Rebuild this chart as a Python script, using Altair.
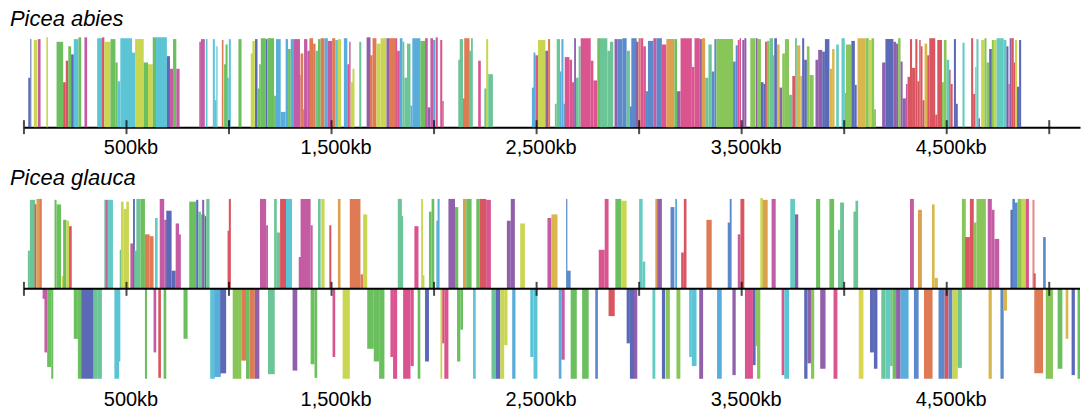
import altair as alt
import pandas as pd

# ---------------- data (kb start, kb end, height %, colour) ----------------
palette_names = ["indigo", "purple", "magenta", "pink", "red", "salmon", "orange", "amber",
                 "gold", "yellow", "yg", "lgreen", "green", "mint", "teal", "cyan", "sky", "corn"]
palette_hex = ["#5b69b6", "#9160ab", "#c45ca4", "#da5590", "#d9555f", "#e68a86", "#de7b55", "#dda052",
               "#d8b84e", "#d9d64f", "#c8d652", "#88c65a", "#6cbf5e", "#6cc597", "#63cbc1", "#5bc5d6", "#58addb", "#5b89c9"]

tick_kb = [0, 500, 1000, 1500, 2000, 2500, 3000, 3500, 4000, 4500, 5000]
label_kb = [500, 1500, 2500, 3500, 4500]

abies = [
    (21, 31, 55, "indigo"), (31, 36, 98, "indigo"), (48, 65, 97, "yg"), (68, 81, 98, "magenta"),
    (109, 117, 100, "yg"), (159, 191, 95, "green"), (191, 204, 50, "red"), (204, 216, 74, "red"),
    (216, 230, 90, "green"), (230, 243, 81, "indigo"), (243, 266, 98, "cyan"), (266, 279, 100, "green"),
    (295, 308, 100, "magenta"), (357, 383, 99, "cyan"), (381, 392, 100, "red"), (392, 422, 95, "yg"),
    (422, 446, 98, "green"), (446, 457, 72, "green"), (457, 470, 51, "cyan"), (470, 527, 99, "cyan"),
    (527, 542, 83, "cyan"), (542, 584, 98, "yg"), (584, 605, 72, "green"), (605, 628, 70, "yg"),
    (628, 644, 100, "green"), (644, 697, 100, "cyan"), (697, 712, 79, "indigo"), (712, 727, 65, "magenta"),
    (727, 743, 98, "green"), (743, 759, 65, "magenta"), (855, 863, 95, "magenta"),
    (863, 882, 98, "magenta"), (887, 895, 98, "cyan"), (921, 931, 98, "cyan"), (931, 938, 30, "cyan"),
    (938, 944, 90, "cyan"), (965, 973, 97, "orange"), (976, 986, 70, "green"), (983, 993, 92, "green"),
    (989, 999, 55, "cyan"), (999, 1009, 98, "cyan"), (1046, 1061, 98, "green"), (1106, 1117, 82, "yg"),
    (1114, 1126, 96, "yg"), (1127, 1139, 98, "indigo"), (1139, 1152, 43, "green"), (1147, 1155, 70, "green"),
    (1155, 1179, 99, "green"), (1179, 1187, 98, "indigo"), (1187, 1220, 99, "green"), (1220, 1229, 35, "green"),
    (1229, 1252, 98, "sky"), (1252, 1276, 17, "sky"), (1276, 1288, 98, "sky"), (1288, 1301, 87, "green"),
    (1301, 1317, 98, "sky"), (1317, 1346, 98, "magenta"), (1343, 1349, 58, "magenta"), (1349, 1362, 82, "orange"),
    (1362, 1369, 20, "pink"), (1366, 1382, 98, "magenta"), (1382, 1395, 85, "magenta"), (1392, 1410, 99, "orange"),
    (1410, 1422, 93, "orange"), (1422, 1434, 85, "mint"), (1434, 1447, 98, "green"), (1447, 1466, 99, "orange"),
    (1466, 1482, 99, "sky"), (1482, 1503, 96, "magenta"), (1503, 1518, 99, "orange"), (1518, 1531, 97, "cyan"),
    (1531, 1547, 98, "yg"), (1560, 1577, 99, "sky"), (1577, 1586, 70, "pink"), (1586, 1593, 95, "magenta"),
    (1593, 1606, 50, "yg"), (1602, 1612, 65, "yg"), (1635, 1645, 95, "mint"), (1671, 1690, 100, "purple"),
    (1687, 1700, 80, "orange"), (1700, 1719, 99, "orange"), (1719, 1739, 93, "yg"),
    (1739, 1768, 99, "yg"), (1768, 1784, 99, "purple"), (1784, 1810, 99, "orange"), (1810, 1820, 99, "pink"),
    (1820, 1833, 85, "pink"), (1833, 1846, 99, "sky"), (1846, 1855, 95, "mint"), (1855, 1868, 55, "mint"),
    (1868, 1885, 93, "mint"), (1885, 1894, 24, "sky"), (1894, 1933, 99, "sky"), (1933, 1956, 96, "green"),
    (1956, 1969, 99, "magenta"), (1969, 1982, 22, "purple"), (1982, 1995, 99, "magenta"), (1995, 2006, 97, "sky"),
    (2008, 2018, 100, "pink"), (2030, 2040, 97, "pink"), (2040, 2047, 29, "pink"), (2118, 2128, 75, "mint"),
    (2125, 2141, 98, "mint"), (2147, 2173, 99, "orange"), (2141, 2154, 32, "orange"), (2170, 2180, 85, "mint"),
    (2180, 2189, 99, "mint"), (2215, 2228, 74, "pink"), (2245, 2258, 43, "mint"), (2254, 2264, 98, "yg"),
    (2264, 2287, 59, "mint"), (2477, 2488, 44, "sky"), (2485, 2494, 83, "sky"), (2494, 2507, 80, "pink"),
    (2507, 2543, 97, "yg"), (2543, 2556, 85, "purple"), (2556, 2566, 98, "orange"), (2589, 2598, 26, "mint"),
    (2598, 2614, 98, "mint"),
    (2614, 2621, 62, "sky"), (2621, 2631, 98, "sky"), (2631, 2640, 26, "sky"), (2637, 2660, 78, "pink"),
    (2660, 2673, 75, "pink"), (2673, 2683, 50, "pink"), (2683, 2692, 99, "purple"), (2692, 2705, 55, "mint"),
    (2705, 2715, 90, "mint"), (2715, 2764, 99, "pink"), (2764, 2777, 74, "pink"), (2777, 2796, 52, "pink"),
    (2796, 2809, 99, "green"), (2809, 2845, 99, "mint"), (2845, 2858, 85, "mint"), (2858, 2874, 95, "mint"),
    (2880, 2893, 98, "purple"), (2893, 2919, 98, "corn"), (2919, 2939, 99, "corn"), (2939, 2955, 85, "mint"),
    (2955, 2968, 23, "corn"), (2962, 2988, 99, "corn"), (2984, 2997, 95, "purple"), (2997, 3007, 99, "orange"),
    (3007, 3020, 99, "pink"), (3020, 3033, 90, "pink"), (3033, 3043, 40, "corn"), (3043, 3069, 96, "corn"),
    (3069, 3085, 99, "magenta"), (3085, 3111, 99, "corn"), (3111, 3133, 92, "pink"), (3133, 3172, 98, "amber"),
    (3172, 3185, 98, "green"), (3185, 3202, 40, "purple"), (3202, 3257, 99, "pink"), (3257, 3270, 67, "pink"),
    (3270, 3296, 99, "pink"), (3296, 3306, 98, "purple"), (3306, 3322, 99, "amber"), (3322, 3338, 55, "mint"),
    (3338, 3354, 92, "mint"), (3354, 3367, 62, "corn"), (3367, 3377, 98, "corn"), (3377, 3458, 98, "lgreen"),
    (3458, 3471, 73, "corn"), (3471, 3481, 91, "corn"), (3481, 3490, 97, "pink"),
    (3490, 3497, 99, "pink"), (3503, 3513, 97, "purple"), (3513, 3523, 99, "purple"), (3542, 3565, 99, "lgreen"),
    (3568, 3578, 99, "purple"), (3578, 3594, 98, "lgreen"), (3594, 3607, 50, "indigo"), (3607, 3617, 48, "indigo"),
    (3614, 3623, 95, "red"), (3623, 3636, 96, "lgreen"), (3636, 3653, 99, "mint"), (3649, 3659, 80, "mint"),
    (3659, 3672, 99, "indigo"), (3672, 3685, 92, "gold"), (3685, 3698, 44, "purple"), (3698, 3711, 82, "lgreen"),
    (3711, 3731, 98, "lgreen"), (3731, 3747, 36, "mint"), (3747, 3760, 57, "red"), (3760, 3769, 99, "mint"),
    (3769, 3786, 91, "gold"), (3786, 3795, 57, "gold"), (3795, 3805, 99, "indigo"), (3805, 3818, 75, "indigo"),
    (3818, 3831, 90, "lgreen"), (3831, 3851, 58, "lgreen"), (3860, 3873, 75, "purple"), (3873, 3893, 86, "purple"),
    (3893, 3906, 84, "indigo"), (3906, 3928, 98, "indigo"), (3928, 3941, 65, "gold"), (3941, 3953, 87, "gold"),
    (3961, 3974, 92, "teal"), (3987, 4003, 99, "teal"), (4003, 4013, 38, "mint"), (4009, 4035, 92, "lgreen"),
    (4035, 4052, 96, "indigo"), (4052, 4061, 47, "indigo"), (4065, 4104, 99, "gold"), (4104, 4120, 99, "lgreen"),
    (4120, 4133, 97, "yg"), (4133, 4146, 99, "lgreen"), (4146, 4155, 20, "lgreen"), (4185, 4201, 72, "purple"),
    (4201, 4240, 98, "indigo"), (4240, 4253, 95, "purple"), (4253, 4263, 93, "purple"), (4263, 4275, 99, "lgreen"),
    (4275, 4285, 73, "purple"), (4285, 4301, 32, "purple"), (4301, 4309, 48, "magenta"), (4309, 4321, 56, "red"),
    (4321, 4331, 98, "red"), (4331, 4347, 66, "red"), (4347, 4357, 98, "red"), (4357, 4366, 51, "red"),
    (4366, 4373, 97, "red"), (4373, 4382, 90, "red"), (4382, 4392, 30, "red"), (4392, 4405, 93, "gold"),
    (4405, 4415, 80, "red"), (4415, 4444, 99, "red"), (4444, 4454, 14, "red"), (4454, 4477, 97, "red"),
    (4477, 4486, 50, "lgreen"), (4486, 4499, 97, "lgreen"), (4499, 4512, 75, "teal"), (4512, 4519, 64, "red"),
    (4519, 4529, 48, "red"), (4535, 4545, 98, "indigo"), (4545, 4554, 26, "indigo"), (4577, 4587, 94, "teal"),
    (4619, 4629, 99, "red"), (4629, 4639, 37, "red"), (4639, 4645, 67, "teal"), (4645, 4655, 98, "teal"),
    (4655, 4662, 10, "purple"), (4668, 4684, 97, "yg"), (4684, 4694, 99, "lgreen"), (4694, 4707, 72, "lgreen"),
    (4707, 4720, 87, "indigo"), (4720, 4730, 97, "lgreen"), (4730, 4743, 97, "yg"), (4743, 4778, 99, "teal"),
    (4778, 4791, 97, "teal"), (4791, 4801, 90, "indigo"), (4801, 4807, 48, "magenta"), (4807, 4817, 99, "purple"),
    (4817, 4827, 99, "red"), (4827, 4833, 72, "red"), (4833, 4843, 97, "yg"), (4843, 4853, 45, "indigo"),
    (4853, 4863, 97, "indigo"),
]

glauca_plus = [
    (19, 29, 42, "mint"), (29, 55, 98, "mint"), (52, 61, 93, "red"), (61, 74, 99, "amber"),
    (74, 87, 99, "orange"), (149, 159, 98, "green"), (159, 181, 93, "green"), (185, 198, 14, "yg"),
    (191, 207, 76, "green"), (207, 220, 75, "yg"), (220, 233, 69, "red"), (392, 402, 98, "mint"),
    (399, 409, 98, "magenta"), (409, 434, 98, "teal"), (467, 480, 43, "mint"), (473, 486, 96, "yg"),
    (486, 503, 88, "yg"), (499, 512, 96, "yg"), (519, 532, 50, "magenta"), (532, 541, 99, "indigo"),
    (538, 555, 42, "mint"), (548, 568, 99, "mint"), (568, 590, 99, "green"), (590, 613, 60, "orange"),
    (613, 632, 58, "orange"), (639, 652, 78, "teal"), (662, 684, 99, "magenta"), (684, 697, 76, "magenta"),
    (694, 720, 86, "indigo"), (720, 740, 20, "indigo"), (740, 756, 72, "magenta"), (749, 765, 60, "magenta"),
    (806, 840, 96, "green"), (840, 850, 98, "indigo"), (850, 863, 85, "mint"), (863, 882, 82, "mint"),
    (869, 879, 98, "purple"), (882, 889, 80, "indigo"), (889, 905, 99, "mint"), (993, 1002, 64, "red"),
    (999, 1009, 99, "red"), (1151, 1181, 99, "magenta"), (1181, 1190, 70, "magenta"), (1220, 1233, 99, "mint"),
    (1233, 1249, 62, "mint"), (1249, 1278, 99, "red"), (1278, 1307, 99, "cyan"), (1340, 1353, 35, "magenta"),
    (1349, 1398, 99, "magenta"), (1398, 1408, 70, "magenta"), (1434, 1447, 99, "mint"), (1450, 1466, 99, "yg"),
    (1489, 1499, 70, "red"), (1531, 1544, 99, "amber"), (1589, 1641, 99, "orange"),
    (1641, 1654, 16, "orange"), (1654, 1674, 82, "yg"), (1823, 1843, 99, "mint"), (1836, 1849, 80, "mint"),
    (1904, 1924, 69, "pink"), (1937, 1946, 99, "yg"), (1946, 1953, 15, "yg"), (1975, 1988, 85, "green"),
    (1988, 2001, 99, "green"), (2011, 2024, 75, "sky"), (2017, 2027, 99, "sky"), (2070, 2102, 99, "purple"),
    (2102, 2118, 90, "green"), (2141, 2157, 99, "amber"), (2157, 2183, 99, "green"), (2206, 2222, 99, "green"),
    (2222, 2254, 99, "red"), (2254, 2277, 98, "pink"), (2355, 2374, 75, "purple"), (2374, 2394, 99, "purple"),
    (2420, 2443, 72, "yg"), (2553, 2572, 78, "magenta"), (2572, 2602, 82, "gold"), (2644, 2650, 99, "corn"),
    (2647, 2666, 20, "corn"), (2803, 2832, 43, "pink"), (2832, 2851, 99, "pink"), (2884, 2913, 99, "green"),
    (2913, 2939, 97, "yg"), (3000, 3017, 99, "teal"), (3017, 3030, 30, "teal"), (3079, 3088, 99, "amber"),
    (3088, 3111, 99, "purple"), (3153, 3172, 90, "corn"), (3176, 3185, 99, "sky"), (3205, 3218, 40, "red"),
    (3218, 3231, 99, "red"), (3328, 3354, 76, "orange"),
    (3432, 3445, 73, "corn"), (3442, 3451, 99, "corn"), (3481, 3494, 60, "magenta"), (3494, 3513, 99, "red"),
    (3591, 3604, 100, "yg"), (3604, 3627, 98, "amber"), (3646, 3666, 99, "magenta"), (3737, 3760, 99, "teal"),
    (3760, 3776, 82, "purple"), (3863, 3883, 99, "green"), (3928, 3951, 99, "green"), (3970, 3980, 65, "mint"),
    (3980, 3999, 95, "mint"), (4045, 4061, 85, "mint"), (4055, 4068, 97, "mint"), (4321, 4340, 99, "magenta"),
    (4360, 4379, 87, "amber"), (4428, 4441, 93, "gold"), (4441, 4457, 12, "gold"), (4574, 4593, 99, "lgreen"),
    (4590, 4613, 57, "red"), (4613, 4632, 99, "red"), (4632, 4645, 73, "lgreen"), (4645, 4691, 99, "lgreen"),
    (4700, 4720, 99, "magenta"), (4720, 4733, 87, "magenta"), (4733, 4756, 55, "magenta"), (4811, 4827, 87, "indigo"),
    (4820, 4833, 99, "corn"), (4833, 4846, 95, "corn"), (4846, 4866, 99, "lgreen"), (4866, 4885, 99, "yg"),
    (4885, 4901, 99, "pink"), (4918, 4928, 98, "salmon"), (4924, 4934, 17, "red"), (4970, 4983, 57, "corn"),
]

glauca_minus = [
    (91, 110, 11, "magenta"), (100, 113, 70, "magenta"), (113, 133, 86, "green"), (133, 143, 99, "green"),
    (243, 263, 55, "green"), (263, 279, 99, "green"), (279, 340, 99, "indigo"), (340, 357, 99, "mint"),
    (357, 380, 99, "mint"), (441, 464, 99, "cyan"), (460, 470, 80, "cyan"), (590, 600, 99, "green"),
    (632, 645, 70, "magenta"), (655, 668, 98, "red"), (681, 694, 99, "green"), (778, 798, 55, "green"),
    (908, 931, 99, "cyan"), (928, 960, 97, "sky"), (957, 986, 93, "indigo"), (1018, 1044, 99, "lgreen"),
    (1044, 1060, 99, "lgreen"), (1060, 1083, 79, "orange"), (1083, 1100, 99, "green"), (1100, 1126, 99, "orange"),
    (1126, 1148, 99, "purple"), (1190, 1223, 94, "mint"), (1310, 1333, 90, "purple"), (1398, 1417, 83, "green"),
    (1417, 1430, 98, "green"), (1505, 1518, 75, "pink"), (1554, 1589, 99, "yg"),
    (1674, 1706, 66, "green"), (1706, 1732, 80, "green"), (1732, 1758, 99, "green"), (1787, 1800, 75, "pink"),
    (1800, 1820, 99, "pink"), (1849, 1885, 99, "pink"), (1885, 1901, 85, "pink"), (1920, 1933, 99, "green"),
    (1956, 1975, 80, "indigo"), (2031, 2040, 99, "yg"), (2040, 2050, 60, "red"), (2050, 2070, 99, "pink"),
    (2112, 2128, 80, "green"), (2128, 2141, 45, "green"), (2190, 2203, 99, "cyan"), (2280, 2300, 99, "mint"),
    (2300, 2323, 99, "indigo"), (2323, 2342, 99, "yg"), (2342, 2358, 62, "yg"), (2381, 2397, 99, "sky"),
    (2469, 2485, 75, "cyan"), (2485, 2504, 99, "cyan"), (2608, 2621, 99, "sky"), (2621, 2637, 78, "magenta"),
    (2666, 2696, 99, "green"), (2722, 2754, 99, "green"), (2786, 2799, 99, "corn"), (2851, 2881, 30, "red"),
    (2939, 2955, 60, "indigo"), (2955, 2975, 99, "indigo"), (2975, 2991, 99, "purple"), (3065, 3079, 99, "teal"),
    (3111, 3127, 99, "indigo"), (3130, 3150, 99, "lgreen"), (3182, 3201, 99, "lgreen"), (3244, 3257, 75, "cyan"),
    (3257, 3280, 85, "cyan"), (3293, 3312, 99, "purple"), (3380, 3403, 99, "sky"),
    (3455, 3471, 95, "purple"), (3516, 3555, 99, "pink"), (3555, 3568, 84, "indigo"), (3568, 3575, 63, "lgreen"),
    (3575, 3591, 99, "lgreen"), (3695, 3708, 95, "pink"), (3708, 3731, 99, "cyan"), (3805, 3821, 99, "indigo"),
    (3821, 3841, 82, "purple"), (3838, 3854, 99, "lgreen"), (3883, 3909, 88, "purple"), (3948, 3967, 99, "pink"),
    (4071, 4094, 99, "yellow"), (4126, 4145, 70, "indigo"), (4145, 4162, 88, "indigo"), (4181, 4201, 99, "mint"),
    (4201, 4224, 99, "teal"), (4224, 4236, 85, "mint"), (4236, 4253, 99, "green"), (4253, 4275, 99, "purple"),
    (4275, 4314, 99, "sky"), (4340, 4363, 99, "corn"), (4389, 4431, 99, "orange"), (4460, 4490, 99, "corn"),
    (4490, 4509, 99, "red"), (4509, 4528, 99, "corn"), (4528, 4554, 99, "yg"), (4554, 4574, 87, "mint"),
    (4704, 4720, 99, "gold"), (4762, 4778, 99, "corn"), (4775, 4794, 24, "gold"), (4927, 4970, 93, "orange"),
    (4983, 5018, 99, "lgreen"), (5041, 5064, 88, "green"), (5080, 5093, 55, "gold"), (5109, 5125, 95, "indigo"),
    (5138, 5150, 99, "green"),
]


def frame(rows, sign=1):
    return pd.DataFrame({
        "start": [r[0] for r in rows],
        "end": [r[1] for r in rows],
        "h": [sign * r[2] for r in rows],
        "col": [r[3] for r in rows],
    })


df_abies = frame(abies)
df_glauca = pd.concat([frame(glauca_plus, 1), frame(glauca_minus, -1)], ignore_index=True)
df_ticks = pd.DataFrame({"kb": tick_kb})
df_zero = pd.DataFrame({"v": [0]})

W = 1058
FONT = "Liberation Sans"
xs = alt.Scale(domain=[0, 5150], nice=False, zero=False)
color = alt.Color("col:N", scale=alt.Scale(domain=palette_names, range=palette_hex), legend=None)


def xaxis(domain):
    return alt.Axis(values=label_kb, labelExpr="format(datum.value, ',') + 'kb'", ticks=False,
                    grid=False, title=None, labelFontSize=20, labelFont=FONT, labelColor="black",
                    labelPadding=10, labelOffset=4, domain=domain, domainColor="black", domainWidth=2)


def title(txt, off):
    return alt.TitleParams(txt, anchor="start", fontStyle="italic", fontWeight="normal", fontSize=22,
                           font=FONT, color="black", dx=-13, offset=off)


top_bars = alt.Chart(df_abies).mark_rect(strokeWidth=0).encode(
    x=alt.X("start:Q", scale=xs, axis=xaxis(True)),
    x2="end:Q",
    y=alt.Y("h:Q", scale=alt.Scale(domain=[0, 100], nice=False), axis=None),
    y2=alt.datum(0),
    color=color,
)
top_ticks = alt.Chart(df_ticks).mark_tick(color="black", thickness=2, size=14, orient="vertical").encode(
    x=alt.X("kb:Q", scale=xs), y=alt.value(90)
)
top = alt.layer(top_bars, top_ticks).properties(width=W, height=90, title=title("Picea abies", 6))

bot_bars = alt.Chart(df_glauca).mark_rect(strokeWidth=0).encode(
    x=alt.X("start:Q", scale=xs, axis=xaxis(False)),
    x2="end:Q",
    y=alt.Y("h:Q", scale=alt.Scale(domain=[-100, 100], nice=False), axis=None),
    y2=alt.datum(0),
    color=color,
)
bot_line = alt.Chart(df_zero).mark_rule(color="black", strokeWidth=2).encode(
    y=alt.Y("v:Q", scale=alt.Scale(domain=[-100, 100], nice=False), axis=None),
    x=alt.value(0), x2=alt.value(W),
)
bot_ticks = alt.Chart(df_ticks).mark_tick(color="black", thickness=2, size=14, orient="vertical").encode(
    x=alt.X("kb:Q", scale=xs), y=alt.datum(0)
)
bottom = alt.layer(bot_bars, bot_line, bot_ticks).properties(width=W, height=182,
                                                             title=title("Picea glauca", 8))

chart = alt.vconcat(top, bottom, spacing=10).properties(
    padding={"left": 10, "top": 8, "right": 0, "bottom": 0},
    background="white",
).configure_view(stroke=None)

chart.save("out.html", embed_options={"renderer": "svg", "actions": False})
